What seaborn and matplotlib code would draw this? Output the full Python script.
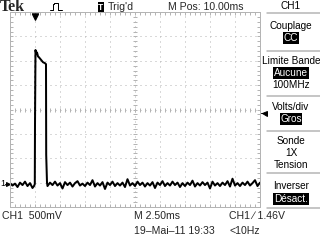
import numpy as np
import pandas as pd
import matplotlib
matplotlib.use("Agg")
import matplotlib.pyplot as plt
import matplotlib.transforms as mtransforms
from matplotlib.lines import Line2D
import seaborn as sns

# ---------------- data ----------------
# time base (ms) and voltages (V) read from the screen, ground = 0 V
DT = 0.25
pre_v = [0.02, -0.03, 0.01, -0.06, 0.03, -0.02, 0.05, -0.04, 0.02, -0.08]
pulse_t = [2.40, 2.48, 2.50]
pulse_v = [-0.04, 0.0, 1.21]
edge_t = [2.50, 2.55]              # fast edge drawn dotted by the scope
edge_v = [1.21, 2.75]
top_t = [2.55, 2.62, 2.70, 2.80, 2.90, 3.10, 3.30, 3.50, 3.60, 3.62, 3.70]
top_v = [2.75, 2.68, 2.70, 2.62, 2.60, 2.55, 2.50, 2.48, 2.46, 0.60, 0.03]
post_v = [-0.04, 0.03, -0.02, 0.05, -0.03, 0.02, -0.09, 0.04, -0.02, 0.03,
          -0.05, 0.02, 0.06, -0.03, 0.01, -0.04, 0.03, -0.02, 0.08, -0.05,
          0.02, -0.03, 0.04, -0.10, 0.03, -0.02, 0.05, -0.04, 0.02, -0.03,
          0.03, -0.06, 0.10, -0.03, 0.02, -0.04, 0.05, -0.02, 0.03, -0.05,
          0.02, -0.03, 0.04, -0.08, 0.03, -0.02, 0.06, -0.04, 0.02, -0.03,
          0.05, -0.02, 0.03, -0.06, 0.02, -0.04, 0.03, -0.02, 0.07, -0.05,
          0.02, -0.03, 0.04, -0.02, 0.03, -0.09, 0.05, -0.03, 0.02, -0.04,
          0.03, -0.02, 0.06, -0.05, 0.11, -0.03, 0.02, -0.04, 0.03, -0.02,
          0.05, -0.03, 0.02, 0.08, -0.04, 0.03]
POST_START = 3.75

TIME_DIV = 2.5      # ms/div
VOLT_DIV = 0.5      # V/div
N_HDIV, N_VDIV = 10, 8
GROUND_DIV = 0.94   # ground level in divisions above bottom
TRIG_LEVEL = 1.46
TRIG_TIME = 2.5

menu_labels = ["CH1", "Couplage", "CC", "Limite Bande", "Aucune", "100MHz",
               "Volts/div", "Gros", "Sonde", "1X", "Tension", "Inverser", "Désact."]
menu_inverted = [False, False, True, False, True, False,
                 False, True, False, False, False, False, True]

# ---------------- build frames ----------------
pre_t = list(np.arange(len(pre_v)) * DT)
post_t = list(POST_START + np.arange(len(post_v)) * DT)
solid = pd.DataFrame({
    "t": pre_t + pulse_t + top_t + post_t,
    "v": pre_v + pulse_v + top_v + post_v,
})
dotted = pd.DataFrame({"t": edge_t, "v": edge_v})

# ---------------- figure ----------------
sns.set_style("white")
plt.rcParams["font.family"] = ["Liberation Sans", "DejaVu Sans"]
W, H = 320, 240
fig = plt.figure(figsize=(W / 72, H / 72), dpi=72)
fig.patch.set_facecolor("white")

def fx(x):
    return x / W

def fy(y):
    return 1 - y / H

FS = 10.5
MFS = 10
GL, GT, GR, GB = 10, 12, 260, 207
ax = fig.add_axes([fx(GL), fy(GB), (GR - GL) / W, (GB - GT) / H])
ymin = -GROUND_DIV * VOLT_DIV
ymax = ymin + N_VDIV * VOLT_DIV
ax.set_xlim(0, N_HDIV * TIME_DIV)
ax.set_ylim(ymin, ymax)

grey = "#b4b4b4"
ax.set_xticks([i * TIME_DIV for i in range(N_HDIV + 1)])
ax.set_xticks([i * TIME_DIV / 5 for i in range(N_HDIV * 5 + 1)], minor=True)
ax.set_yticks([ymin + i * VOLT_DIV for i in range(N_VDIV + 1)])
ax.set_yticks([ymin + i * VOLT_DIV / 5 for i in range(N_VDIV * 5 + 1)], minor=True)
ax.tick_params(which="both", direction="in", length=3, width=1, color=grey,
               top=True, right=True, bottom=True, left=True,
               labelbottom=False, labelleft=False)
for s in ax.spines.values():
    s.set_color(grey)
    s.set_linewidth(1)
ax.grid(True, which="major", color=grey, linestyle=(0, (1, 4)), linewidth=1)

# centre line tick marks
xc = N_HDIV * TIME_DIV / 2
yc = ymin + N_VDIV * VOLT_DIV / 2
mx = [i * TIME_DIV / 5 for i in range(N_HDIV * 5 + 1)]
my = [ymin + i * VOLT_DIV / 5 for i in range(N_VDIV * 5 + 1)]
ax.plot(mx, [yc] * len(mx), ls="none", marker="|", ms=4, mew=1, color=grey)
ax.plot([xc] * len(my), my, ls="none", marker="_", ms=4, mew=1, color=grey)

# trace
sns.lineplot(data=solid, x="t", y="v", sort=False, estimator=None,
             color="black", lw=2.0, ax=ax)
sns.lineplot(data=dotted, x="t", y="v", sort=False, estimator=None,
             color="black", lw=1.3, ax=ax, linestyle=(0, (2, 2)))
ax.set_xlabel("")
ax.set_ylabel("")

# markers: trigger position, ground, trigger level
bt = mtransforms.blended_transform_factory(ax.transData, ax.transAxes)
ax.plot([TRIG_TIME], [1 - 5 / (GB - GT)], transform=bt, marker="v", ms=6,
        color="black", clip_on=False)
ax.plot([TRIG_TIME], [1 - 2 / (GB - GT)], transform=bt, marker="_", ms=7,
        mew=1.5, color="black", clip_on=False)
bl = mtransforms.blended_transform_factory(ax.transAxes, ax.transData)
ax.plot([-2 / (GR - GL)], [0], transform=bl, marker=">", ms=4,
        color="black", clip_on=False)
ax.plot([-5 / (GR - GL), 0], [0, 0], transform=bl,
        color="black", lw=1, clip_on=False)
fig.text(fx(0.5), fy(184), "1", ha="left", va="center", fontsize=9, color="black")
ax.plot([1 + 4 / (GR - GL)], [TRIG_LEVEL], transform=bl, marker="<", ms=5,
        color="black", clip_on=False)
ax.plot([1 + 1 / (GR - GL), 1 + 7 / (GR - GL)], [TRIG_LEVEL] * 2, transform=bl,
        color="black", lw=1, clip_on=False)

# ---------------- top status line ----------------
fig.text(fx(0), fy(7), "Tek", family=["Liberation Serif", "DejaVu Serif"],
         fontweight="bold", fontsize=16, va="center", ha="left")
icon = Line2D([fx(50), fx(53), fx(53), fx(54), fx(54), fx(58), fx(58), fx(62)],
              [fy(10), fy(10), fy(4), fy(4), fy(3), fy(3), fy(10), fy(10)],
              transform=fig.transFigure, color="black", lw=1)
fig.add_artist(icon)
fig.text(fx(101), fy(7), "T", color="white", fontsize=8.5, fontweight="bold",
         ha="center", va="center",
         bbox=dict(facecolor="black", edgecolor="none", pad=0.8))
fig.text(fx(108), fy(7), "Trig'd", fontsize=FS, ha="left", va="center")
fig.text(fx(206), fy(7), "M Pos: 10.00ms", fontsize=FS, ha="center", va="center")

# ---------------- right menu ----------------
menu_y = [6, 26, 38, 61, 73, 85, 107, 119, 141, 153, 165, 186, 199]
for lab, inv, yy in zip(menu_labels, menu_inverted, menu_y):
    if inv:
        fig.text(fx(291), fy(yy), lab, color="white", fontsize=MFS,
                 ha="center", va="center",
                 bbox=dict(facecolor="black", edgecolor="none", pad=0.6))
    else:
        fig.text(fx(291), fy(yy), lab, color="black", fontsize=MFS,
                 ha="center", va="center")
for yy in [13, 51, 96, 131, 173, 208]:
    fig.add_artist(Line2D([fx(267), fx(320)], [fy(yy), fy(yy)],
                          transform=fig.transFigure, color=grey, lw=1.5))

# ---------------- bottom status lines ----------------
fig.text(fx(2), fy(216), "CH1  500mV", fontsize=FS, ha="left", va="center")
fig.text(fx(134), fy(216), "M 2.50ms", fontsize=FS, ha="left", va="center")
fig.text(fx(229), fy(216), "CH1 \u2215 1.46V", fontsize=FS, ha="left", va="center")
fig.text(fx(134), fy(231), "19\u2013Mai\u201311 19:33", fontsize=FS, ha="left", va="center")
fig.text(fx(229), fy(231), "<10Hz", fontsize=FS, ha="left", va="center")

fig.savefig("out.png", dpi=72, facecolor="white")
